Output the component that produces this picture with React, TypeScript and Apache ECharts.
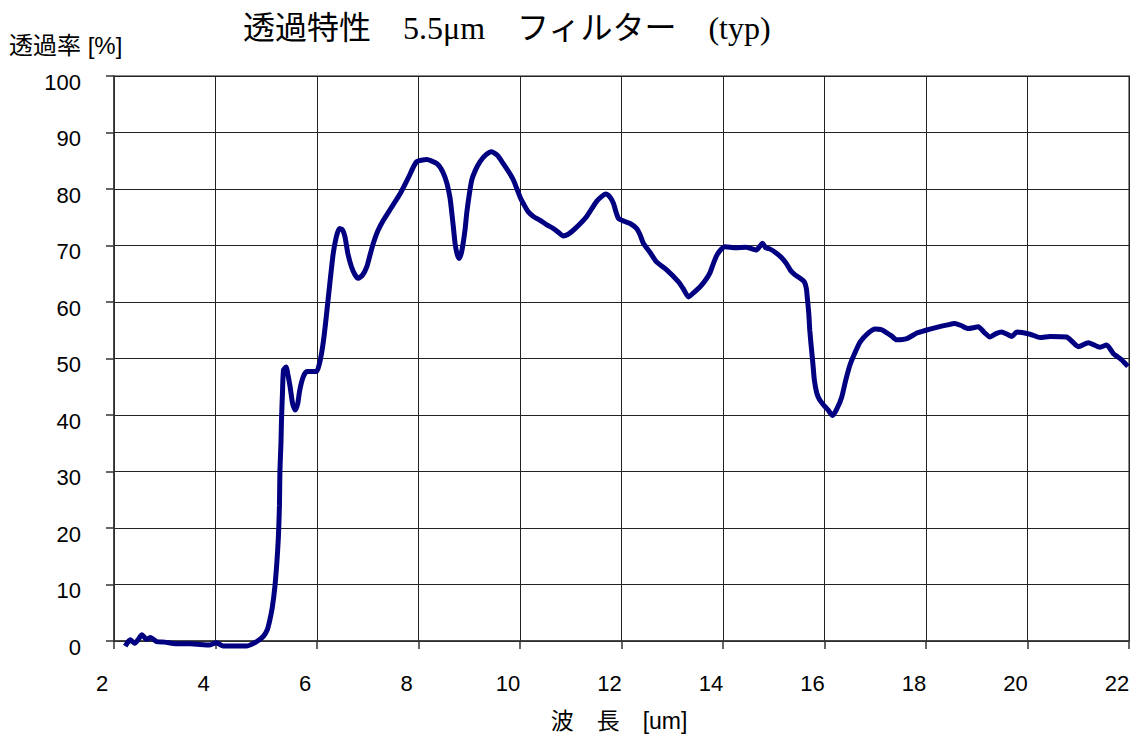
import React, { useEffect, useRef } from "react";
import * as echarts from "echarts";

const wavelength = [
  2.22, 2.32, 2.41, 2.48, 2.55, 2.64, 2.72, 2.84, 3.0, 3.23, 3.5, 3.89, 4.02, 4.15, 4.4, 4.61, 4.81, 4.94,
  5.02, 5.07, 5.12, 5.17, 5.21, 5.24, 5.26, 5.27, 5.29, 5.3, 5.32, 5.34, 5.39, 5.43, 5.47, 5.52, 5.57, 5.62,
  5.66, 5.73, 5.8, 5.99, 6.04, 6.09, 6.14, 6.19, 6.26, 6.32, 6.38, 6.44, 6.5, 6.55, 6.61, 6.68, 6.75, 6.81,
  6.9, 6.98, 7.05, 7.11, 7.2, 7.31, 7.45, 7.64, 7.8, 7.96, 8.16, 8.36, 8.48, 8.56, 8.62, 8.65, 8.69, 8.72,
  8.76, 8.8, 8.84, 8.88, 8.92, 8.95, 9.0, 9.05, 9.12, 9.21, 9.32, 9.44, 9.55, 9.67, 9.78, 9.87, 9.94, 10.0,
  10.08, 10.16, 10.27, 10.39, 10.52, 10.66, 10.76, 10.85, 10.95, 11.05, 11.18, 11.31, 11.42, 11.51, 11.6,
  11.69, 11.77, 11.84, 11.89, 11.94, 12.05, 12.17, 12.3, 12.37, 12.43, 12.56, 12.69, 12.89, 13.12, 13.22,
  13.32, 13.44, 13.55, 13.65, 13.74, 13.81, 13.88, 13.96, 14.04, 14.25, 14.45, 14.66, 14.72, 14.78, 14.84,
  14.92, 15.06, 15.16, 15.25, 15.33, 15.42, 15.52, 15.6, 15.64, 15.66, 15.69, 15.71, 15.74, 15.77, 15.8,
  15.85, 15.91, 15.98, 16.07, 16.16, 16.25, 16.34, 16.42, 16.5, 16.6, 16.7, 16.85, 17.0, 17.12, 17.22,
  17.32, 17.42, 17.62, 17.82, 18.0, 18.21, 18.4, 18.57, 18.7, 18.83, 19.03, 19.15, 19.26, 19.38, 19.49,
  19.6, 19.69, 19.79, 20.05, 20.25, 20.44, 20.77, 20.88, 21.0, 21.2, 21.43, 21.56, 21.69, 21.85, 21.98,
];

const transmittance = [
  -0.9, 0.2, -0.4, 0.3, 1.1, 0.3, 0.6, -0.1, -0.2, -0.5, -0.5, -0.7, -0.3, -0.9, -0.9, -0.9, -0.1, 0.8,
  2.0, 3.7, 6.0, 9.6, 14, 18.5, 24, 30.3, 35, 39, 44, 48, 48.5, 47, 45, 42, 40.9, 42,
  44.4, 46.8, 47.7, 47.7, 48.8, 50.9, 54, 58, 63.9, 68.6, 71.5, 73, 72.8, 71.6, 68.5, 66.2, 64.8, 64.2,
  64.8, 66.2, 68.5, 70.4, 72.6, 74.5, 76.5, 79.2, 82, 84.8, 85.2, 84.5, 83, 81, 78.5, 76.3, 73, 70.4,
  68.5, 67.7, 68.5, 70.4, 73, 75.7, 79, 81.6, 83.3, 84.8, 86, 86.6, 86, 84.5, 83, 81.6, 80, 78.6,
  77.2, 76, 75.1, 74.5, 73.7, 73, 72.3, 71.7, 72, 72.7, 73.8, 75.1, 76.6, 77.8, 78.6,
  79.1, 78.6, 77.5, 76, 74.8, 74.3, 73.9, 73, 71.8, 70.4, 68.8, 67.1, 65.7, 63.6, 62.3,
  60.9, 61.8, 62.7, 63.8, 65.1, 66.8, 68.3, 69.3, 69.8, 69.6, 69.7, 69.2, 69.8, 70.4, 69.6,
  69.4, 68.6, 67.8, 66.8, 65.6, 64.8, 64.2, 63.6, 62.5, 60.9, 58, 55, 52, 49.2, 46.2,
  43.8, 42.6, 41.8, 40.9, 39.9, 41.2, 43.2, 46.2, 48.8, 51, 52.9, 54.4, 55.2, 55.1, 54.6,
  54, 53.3, 53.5, 54.5, 55, 55.5, 55.9, 56.2, 55.8, 55.3, 55.6, 54.6, 53.8, 54.4, 54.7,
  54.3, 53.9, 54.7, 54.3, 53.7, 53.9, 53.8, 53.0, 52.1, 52.8, 52.0, 52.4, 50.9, 49.8, 48.6,
];

const titleText = "透過特性　5.5μm　フィルター　(typ)";
const yName = "透過率 [%]";
const xName = "波　長　[um]";

export default function App() {
  const ref = useRef<HTMLDivElement>(null);
  useEffect(() => {
    if (!ref.current) return;
    const chart = echarts.init(ref.current, null, { renderer: "svg" });
    const data = wavelength.map((w, i) => [w, transmittance[i]]);
    const sans = "'Liberation Sans', Arial, 'Noto Sans CJK JP', sans-serif";
    chart.setOption({
      animation: false,
      backgroundColor: "#ffffff",
      grid: {
        left: 114,
        top: 76,
        right: 9,
        bottom: 93,
        show: true,
        borderColor: "#8a8a8a",
        borderWidth: 2,
        backgroundColor: "transparent",
      },
      xAxis: {
        type: "value",
        min: 2,
        max: 22,
        interval: 2,
        axisLine: { show: true, onZero: true, lineStyle: { color: "#333", width: 1.5 } },
        axisTick: { show: true, inside: false, length: 8, lineStyle: { color: "#333", width: 1.5 } },
        axisLabel: {
          color: "#000",
          fontSize: 22,
          fontFamily: sans,
          margin: 31,
          padding: [0, 24, 0, 0],
        },
        splitLine: { show: true, lineStyle: { color: "#222", width: 1 } },
      },
      yAxis: {
        type: "value",
        min: 0,
        max: 100,
        interval: 10,
        axisLine: { show: true, lineStyle: { color: "#333", width: 1.5 } },
        axisTick: { show: true, inside: false, length: 8, lineStyle: { color: "#333", width: 1.5 } },
        axisLabel: {
          color: "#000",
          fontSize: 22,
          fontFamily: sans,
          margin: 33,
          verticalAlign: "top",
          lineHeight: 12,
        },
        splitLine: { show: true, lineStyle: { color: "#222", width: 1 } },
      },
      series: [
        {
          type: "line",
          data,
          showSymbol: false,
          symbol: "none",
          clip: false,
          smooth: 0.2,
          lineStyle: { color: "#000080", width: 5 },
        },
      ],
      graphic: [
        {
          type: "text",
          left: 243,
          top: 12,
          style: {
            text: titleText,
            fontSize: 32,
            fontFamily: "'Liberation Serif', 'Times New Roman', 'Noto Sans CJK JP', serif",
            fill: "#000",
          },
        },
        {
          type: "text",
          left: 9,
          top: 33,
          style: {
            text: yName,
            fontSize: 24,
            fontFamily: sans,
            fill: "#000",
          },
        },
        {
          type: "text",
          x: 619,
          y: 721,
          style: {
            text: xName,
            fontSize: 23,
            fontFamily: sans,
            fill: "#000",
            align: "center",
            verticalAlign: "middle",
          },
        },
      ],
    });
    return () => chart.dispose();
  }, []);
  return (
    <div
      ref={ref}
      style={{ position: "absolute", left: 0, top: 0, width: 1138, height: 734, background: "#fff" }}
    />
  );
}
